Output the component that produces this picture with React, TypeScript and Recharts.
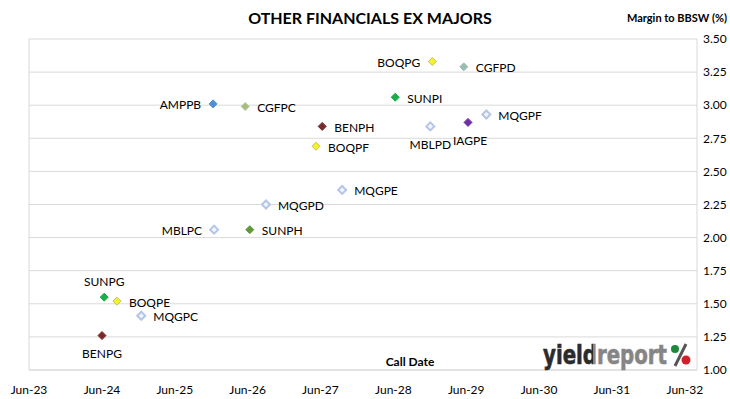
import { CartesianGrid, ReferenceLine, Scatter, ScatterChart, XAxis, YAxis } from 'recharts';

// securities, first call date, margin to BBSW (%)
const securities = [
  'BOQPG', 'CGFPD', 'SUNPI', 'MQGPF', 'IAGPE', 'MBLPD',
  'AMPPB', 'CGFPC', 'BENPH', 'BOQPF', 'MQGPE', 'MQGPD',
  'MBLPC', 'SUNPH', 'SUNPG', 'BOQPE', 'MQGPC', 'BENPG',
];
const callDates = [
  '2028-12-13', '2029-05-20', '2028-06-10', '2029-09-10', '2029-06-10', '2028-12-03',
  '2025-12-10', '2026-05-20', '2027-06-10', '2027-05-10', '2027-09-18', '2026-09-01',
  '2025-12-15', '2026-06-12', '2024-06-12', '2024-08-15', '2024-12-15', '2024-06-01',
];
const margins = [
  3.33, 3.29, 3.06, 2.93, 2.87, 2.84,
  3.01, 2.99, 2.84, 2.69, 2.36, 2.25,
  2.06, 2.06, 1.55, 1.52, 1.41, 1.26,
];

const tickYears = [23, 24, 25, 26, 27, 28, 29, 30, 31, 32];
const yTicks = [1.0, 1.25, 1.5, 1.75, 2.0, 2.25, 2.5, 2.75, 3.0, 3.25, 3.5];

const toTime = (s: string) => {
  const [y, m, d] = s.split('-').map(Number);
  return Date.UTC(y, m - 1, d);
};
const junOf = (yy: number) => Date.UTC(2000 + yy, 5, 1);

const data = securities.map((name, i) => ({ name, x: toTime(callDates[i]), y: margins[i] }));

const FONT = 'Lato, "Open Sans", sans-serif';

const markerStyle: Record<string, { fill: string; stroke: string; sw?: number }> = {
  BOQ: { fill: '#f6f22a', stroke: '#c4c058' },
  CGFPD: { fill: '#98bfa4', stroke: '#a2b6d6' },
  CGFPC: { fill: '#a8bd7c', stroke: '#b8c6a4' },
  SUNPI: { fill: '#1aae48', stroke: '#1aae48' },
  SUNPG: { fill: '#1aae48', stroke: '#1aae48' },
  SUNPH: { fill: '#5e983a', stroke: '#5e983a' },
  MQG: { fill: '#f2f5fb', stroke: '#b4c6e7', sw: 2 },
  MBL: { fill: '#f2f5fb', stroke: '#b4c6e7', sw: 2 },
  IAG: { fill: '#7030a0', stroke: '#7030a0' },
  AMP: { fill: '#4f8fd8', stroke: '#4f8fd8' },
  BEN: { fill: '#7a2a2a', stroke: '#7a2a2a' },
};
const styleFor = (n: string) => markerStyle[n] ?? markerStyle[n.slice(0, 3)];

// where each label sits relative to its marker (default: right)
const labelSide: Record<string, 'l' | 't' | 'b'> = {
  BOQPG: 'l', AMPPB: 'l', MBLPC: 'l',
  SUNPG: 't', BENPG: 'b', MBLPD: 'b', IAGPE: 'b',
};

function Marker(props: any) {
  const { cx, cy, payload } = props;
  const st = styleFor(payload.name);
  const r = 4;
  const side = labelSide[payload.name];
  let tx = cx + 12;
  let ty = cy + 1;
  let anchor: 'start' | 'end' | 'middle' = 'start';
  if (side === 'l') { tx = cx - 12; anchor = 'end'; }
  if (side === 't') { tx = cx; ty = cy - 16; anchor = 'middle'; }
  if (side === 'b') { tx = cx + (payload.name === 'IAGPE' ? 2 : 0); ty = cy + 18; anchor = 'middle'; }
  return (
    <g>
      <polygon
        points={`${cx},${cy - r} ${cx + r},${cy} ${cx},${cy + r} ${cx - r},${cy}`}
        fill={st.fill}
        stroke={st.stroke}
        strokeWidth={st.sw ?? 1}
      />
      <text x={tx} y={ty} textAnchor={anchor} dominantBaseline="central" fontSize={12} fontFamily={FONT} fill="#000">
        {payload.name}
      </text>
    </g>
  );
}

const LOGO_FONT = '"Liberation Sans Narrow", "DejaVu Sans Condensed", sans-serif';

export default function App() {
  return (
    <div style={{ position: 'absolute', left: 0, top: 0, width: 730, height: 399, background: '#fff' }}>
      <ScatterChart width={730} height={399} margin={{ top: 39, left: 29, right: 0, bottom: 0 }}>
        <CartesianGrid vertical={false} stroke="#d9d9d9" />
        <XAxis
          type="number"
          dataKey="x"
          domain={[junOf(23), Date.UTC(2032, 7, 1)]}
          ticks={tickYears.map(junOf)}
          tickFormatter={(v: number) => `Jun-${String(new Date(v).getUTCFullYear() - 2000)}`}
          tickLine={false}
          axisLine={{ stroke: '#d9d9d9' }}
          tick={{ fontSize: 12, fill: '#000', fontFamily: FONT }}
          tickMargin={9}
          height={29}
          allowDataOverflow
        />
        <YAxis
          type="number"
          dataKey="y"
          orientation="right"
          domain={[1, 3.5]}
          ticks={yTicks}
          tickFormatter={(v: number) => v.toFixed(2)}
          tickLine={false}
          axisLine={{ stroke: '#d9d9d9' }}
          tick={{ fontSize: 12, fill: '#000', fontFamily: FONT }}
          tickMargin={0}
          width={33}
        />
        <ReferenceLine x={junOf(23)} stroke="#d9d9d9" />
        <Scatter data={data} shape={Marker} isAnimationActive={false} />
      </ScatterChart>
      <svg width={730} height={399} style={{ position: 'absolute', left: 0, top: 0, pointerEvents: 'none' }}>
        <defs>
          <linearGradient id="logoFill" gradientUnits="userSpaceOnUse" x1={543} y1={0} x2={667} y2={0}>
            <stop offset="0.404" stopColor="#2b2b2b" />
            <stop offset="0.404" stopColor="#858585" />
          </linearGradient>
        </defs>
        <text x={370} y={24} textAnchor="middle" fontSize={16} fontWeight="bold" fontFamily={FONT} fill="#000">
          OTHER FINANCIALS EX MAJORS
        </text>
        <text x={727} y={22} textAnchor="end" fontSize={11} fontWeight="bold" fontFamily={FONT} fill="#000">
          Margin to BBSW (%)
        </text>
        <text x={410} y={366} textAnchor="middle" fontSize={12} fontWeight="bold" fontFamily={FONT} fill="#000">
          Call Date
        </text>
        <text x={543} y={364} fontSize={27} fontWeight="bold" fontFamily={LOGO_FONT} fill="url(#logoFill)"
          stroke="url(#logoFill)" strokeWidth={0.6} textLength={124} lengthAdjust="spacingAndGlyphs">
          yieldreport
        </text>
        <line x1={686} y1={344} x2={675} y2={366} stroke="#555" strokeWidth={3} />
        <circle cx={675} cy={349} r={4} fill="#1d8a3a" />
        <circle cx={686} cy={360} r={4.5} fill="#d0202a" />
      </svg>
    </div>
  );
}
